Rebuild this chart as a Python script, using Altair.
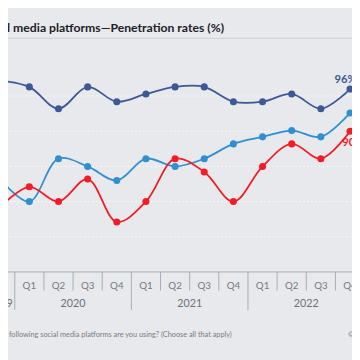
import altair as alt
import pandas as pd

# ---- data ----
idx = list(range(13))
quarters = ["Q4", "Q1", "Q2", "Q3", "Q4", "Q1", "Q2", "Q3", "Q4", "Q1", "Q2", "Q3", "Q4"]
year_labels = ["2019", "2020", "2021", "2022"]
year_centers = [0, 2.5, 6.5, 10.5]
facebook = [97.2, 96.3, 93.2, 96.3, 94.2, 95.3, 96.3, 96.3, 94.2, 94.2, 95.3, 93.2, 96.0]
messenger = [83.2, 80.0, 86.1, 85.0, 83.0, 86.1, 85.0, 86.1, 88.2, 89.2, 90.1, 89.2, 92.6]
youtube = [79.2, 82.1, 80.0, 83.2, 77.1, 80.0, 86.1, 84.2, 80.0, 85.0, 88.2, 86.1, 90.0]
series_names = ["Facebook", "Messenger", "YouTube"]
series_colors = ["#3d5896", "#2f8fd1", "#f31b26"]
grid_values = [75, 80, 85, 90, 95]
baseline_value = [70]
title = "Most used social media platforms\u2014Penetration rates (%)"
source = "Question: Which of the following social media platforms are you using? (Choose all that apply)"

rows = []
for name, vals in zip(series_names, [facebook, messenger, youtube]):
    for i, v in zip(idx, vals):
        rows.append({"i": i, "v": v, "series": name})
df = pd.DataFrame(rows)

xs = alt.Scale(domain=[0.268, 12.068], nice=False, zero=False)
ys = alt.Scale(domain=[58.056, 106.944], nice=False, zero=False)
cs = alt.Scale(domain=series_names, range=series_colors)

X = alt.X("i:Q", scale=xs, axis=None)
Y = alt.Y("v:Q", scale=ys, axis=None)
C = alt.Color("series:N", scale=cs, legend=None)

grid = alt.Chart(pd.DataFrame({"v": grid_values})).mark_rule(
    color="#f6f7f9", strokeDash=[2, 2], strokeWidth=1
).encode(y=Y)

base_line = alt.Chart(pd.DataFrame({"v": baseline_value})).mark_rule(
    color="#a9abb0", strokeWidth=1
).encode(y=Y)

lines = alt.Chart(df).mark_line(
    interpolate="catmull-rom", strokeWidth=1.8, clip=True
).encode(x=X, y=Y, color=C)

points = alt.Chart(df).mark_circle(size=52, opacity=1, clip=True).encode(
    x=X, y=Y, color=C
)

last = df[df["i"] == 12].copy()
last["label"] = [f"{round(v)}%" for v in last["v"]]
lab_fb = alt.Chart(last[last["series"] == "Facebook"]).mark_text(
    align="left", baseline="middle", dx=-16, dy=-9, fontSize=11.5,
    fontWeight="bold", font="Lato"
).encode(x=X, y=Y, text="label:N", color=C)
lab_yt = alt.Chart(last[last["series"] == "YouTube"]).mark_text(
    align="left", baseline="middle", dx=-8, dy=12, fontSize=11.5,
    fontWeight="bold", font="Lato"
).encode(x=X, y=Y, text="label:N", color=C)

qdf = pd.DataFrame({"i": idx[1:], "q": quarters[1:]})
q_text = alt.Chart(qdf).mark_text(
    baseline="middle", fontSize=10, color="#76787d", font="Lato"
).encode(x=X, y=alt.value(280), text="q:N")

seps = [i + 0.5 for i in idx[:-1]]
year_seps = [0.5, 4.5, 8.5]
q_seps = alt.Chart(pd.DataFrame({"i": [s for s in seps if s not in year_seps]})).mark_rule(
    color="#a9abb0", strokeWidth=1
).encode(x=X, y=alt.value(266), y2=alt.value(285))
y_seps = alt.Chart(pd.DataFrame({"i": year_seps})).mark_rule(
    color="#a9abb0", strokeWidth=1
).encode(x=X, y=alt.value(266), y2=alt.value(305))

y_text = alt.Chart(pd.DataFrame({"i": year_centers, "y": year_labels})).mark_text(
    baseline="middle", fontSize=11, color="#6e7075", font="Lato"
).encode(x=X, y=alt.value(299), text="y:N")

title_t = alt.Chart(pd.DataFrame({"t": [title]})).mark_text(
    align="right", baseline="middle", fontSize=12.5, fontWeight="bold",
    color="#202126", font="Lato"
).encode(x=alt.value(221), y=alt.value(16), text="t:N")

title_rule = alt.Chart(pd.DataFrame({"a": [0]})).mark_rule(
    color="#cdd0d4", strokeWidth=1
).encode(y=alt.value(27))

source_t = alt.Chart(pd.DataFrame({"t": [source]})).mark_text(
    align="right", baseline="middle", fontSize=7.5, color="#7a7c81", font="Lato"
).encode(x=alt.value(229), y=alt.value(331), text="t:N")

copy_t = alt.Chart(pd.DataFrame({"t": ["\u00a9"]})).mark_text(
    align="left", baseline="middle", fontSize=8, color="#7a7c81", font="Lato"
).encode(x=alt.value(348), y=alt.value(331), text="t:N")

chart = alt.layer(
    grid, base_line, title_rule, q_seps, y_seps, lines, points, lab_fb, lab_yt,
    q_text, y_text, title_t, source_t, copy_t
).properties(
    width=352, height=352,
    autosize=alt.AutoSizeParams(type="none"),
    padding=0,
    background="#e7e9ec",
).configure_view(stroke=None)

chart.save("out.html", embed_options={"renderer": "svg", "actions": False})
